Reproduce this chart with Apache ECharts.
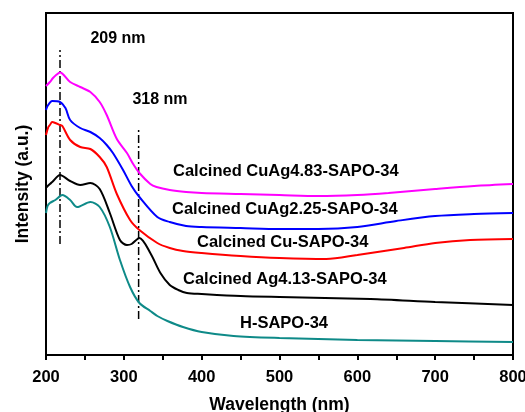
<!DOCTYPE html>
<html>
<head>
<meta charset="utf-8">
<script src="https://cdn.jsdelivr.net/npm/echarts@6/dist/echarts.min.js"></script>
<style>
html,body{margin:0;padding:0;background:#fff;}
#c{width:525px;height:412px;}
</style>
</head>
<body>
<div id="c"></div>
<script>
// Wavelength (nm) and intensity (a.u.) for each sample
const seriesNames = ['Calcined CuAg4.83-SAPO-34','Calcined CuAg2.25-SAPO-34','Calcined Cu-SAPO-34','Calcined Ag4.13-SAPO-34','H-SAPO-34'];
const colors = ['#ff00ff','#0000ff','#ff0000','#000000','#0e8a88'];

const wlCuAg483 = [200,205,209,213,218,231,244,257,269,278,291,304,312,320,334,342,359,380,400,450,500,550,600,640,700,750,800];
const intCuAg483 = [269,273,277,280,282.5,273,268,263,253,240,216,202,191,182,171,168,165,163,162,161,160,159,160,162,166,169,171];

const wlCuAg225 = [200,202,208,218,225,231,244,257,269,278,286,299,310,320,343,359,380,400,450,500,550,600,650,700,750,800];
const intCuAg225 = [245,249,254,253,247,235,227,223,217,210,202,185,169,158,138,133,129,128,127,126,126,128,134,139,141,142];

const wlCu = [200,203,205,208,212,218,221,231,244,257,269,278,291,308,320,343,359,376,400,450,500,560,600,660,700,745,800];
const intCu = [220,228,230,233,232,230,229,215,208,206,198,188,161,135,125,112,107,104,102,99,97,96,100,107,112,115,116];

const wlAg413 = [200,201,205,208,218,231,244,257,269,282,295,304,310,320,334,347,359,370,381,400,450,500,617,700,800];
const intAg413 = [167,168,171,173,180,174,170,172,166,142,115,110,111,117,102,82,70,65,62,61,59,58,56,53,50];

const wlH = [200,202,205,212,221,231,240,257,269,282,295,308,320,334,343,356,376,400,441,500,600,700,800];
const intH = [142,149,152,155,160,155,148,153,148,128,95,68,52,44,39,34,28,23,19,17,15,14,13];

// Reference peak markers (dash-dot vertical lines)
const peakLabels = ['209 nm','318 nm'];
const peakWl = [218, 319];
const peakTop = [305, 228];
const peakBottom = [111, 36];

const xTicks = [200,300,400,500,600,700,800];

const wls = [wlCuAg483, wlCuAg225, wlCu, wlAg413, wlH];
const ints = [intCuAg483, intCuAg225, intCu, intAg413, intH];

const zip = (a,b) => a.map((v,i)=>[v,b[i]]);
const FONT = 'Liberation Sans, Arial, sans-serif';

const series = seriesNames.map((n,i)=>({
  name:n, type:'line', data: zip(wls[i], ints[i]), smooth:0.3, symbol:'none',
  lineStyle:{color:colors[i], width:2}, z:3
}));
peakWl.forEach((w,i)=>{
  series.push({
    type:'line', data:[[w,peakBottom[i]],[w,peakTop[i]]], symbol:'none',
    lineStyle:{color:'#000', width:1.5, type:[8,3,2,3]}, z:2
  });
});

const chart = echarts.init(document.getElementById('c'), null, {renderer:'canvas'});
const labelPos = [[173,172],[172,210],[197,243],[183,280],[240,324]];
const peakPos = [[118,39],[160,100]];
const graphic = [];
seriesNames.forEach((n,i)=>graphic.push({type:'text', left:labelPos[i][0], top:labelPos[i][1]-9,
  style:{text:n, font:'bold 16.5px '+FONT, fill:'#000'}}));
peakLabels.forEach((t,i)=>graphic.push({type:'text', x:peakPos[i][0], y:peakPos[i][1],
  style:{text:t, font:'bold 16px '+FONT, fill:'#000', align:'center', verticalAlign:'middle'}}));

chart.setOption({
  animation:false,
  backgroundColor:'#fff',
  grid:{left:46, right:12, top:13, bottom:57, show:true, borderColor:'#000', borderWidth:2,
        containLabel:false, outerBoundsMode:'none'},
  xAxis:{type:'value', min:200, max:800, interval:100,
    name:'Wavelength (nm)', nameLocation:'middle', nameGap:41,
    nameTextStyle:{fontFamily:FONT, fontWeight:'bold', fontSize:17.5, color:'#000'},
    axisLine:{lineStyle:{color:'#000', width:2}},
    axisTick:{show:true, inside:false, length:5, lineStyle:{color:'#000', width:2}},
    minorTick:{show:true, splitNumber:2, length:5, lineStyle:{color:'#000', width:2}},
    axisLabel:{fontFamily:FONT, fontWeight:'bold', fontSize:16.5, color:'#000', margin:14},
    splitLine:{show:false}},
  yAxis:{type:'value', min:0, max:342,
    name:'Intensity (a.u.)', nameLocation:'middle', nameGap:14,
    nameTextStyle:{fontFamily:FONT, fontWeight:'bold', fontSize:17.5, color:'#000'},
    axisLine:{show:true, lineStyle:{color:'#000', width:2}},
    axisTick:{show:false}, axisLabel:{show:false}, splitLine:{show:false}},
  series: series,
  graphic: graphic
});
</script>
</body>
</html>
